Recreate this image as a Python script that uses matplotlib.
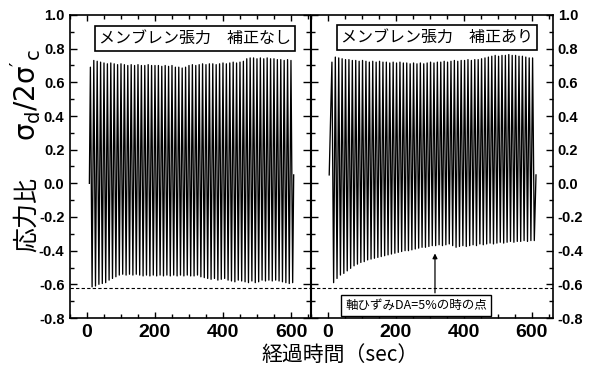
import numpy as np
import matplotlib
matplotlib.use("Agg")
import matplotlib.pyplot as plt
from matplotlib.ticker import MultipleLocator

plt.rcParams['font.family'] = ['Noto Sans CJK JP', 'DejaVu Sans']
plt.rcParams['mathtext.fontset'] = 'dejavusans'
plt.rcParams['mathtext.default'] = 'regular'

# ---------------- data ----------------
cycle_period = 10.0  # s

left_peaks = [0.69, 0.73, 0.725, 0.72, 0.715, 0.71, 0.715, 0.71, 0.705, 0.71,
              0.705, 0.70, 0.705, 0.70, 0.705, 0.70, 0.70, 0.705, 0.70, 0.70,
              0.70, 0.695, 0.70, 0.695, 0.70, 0.69, 0.69, 0.685, 0.69, 0.70,
              0.705, 0.70, 0.705, 0.71, 0.705, 0.71, 0.71, 0.705, 0.71, 0.715,
              0.71, 0.715, 0.72, 0.715, 0.72, 0.725, 0.74, 0.745, 0.745, 0.74,
              0.745, 0.74, 0.745, 0.74, 0.74, 0.735, 0.735, 0.73, 0.735, 0.73]
left_troughs = [-0.615, -0.61, -0.60, -0.595, -0.59, -0.575, -0.565, -0.555, -0.545, -0.54,
                -0.545, -0.54, -0.545, -0.54, -0.545, -0.55, -0.545, -0.55, -0.545, -0.55,
                -0.545, -0.55, -0.545, -0.55, -0.545, -0.55, -0.545, -0.55, -0.545, -0.55,
                -0.55, -0.545, -0.555, -0.56, -0.565, -0.57, -0.565, -0.575, -0.57, -0.565,
                -0.575, -0.58, -0.585, -0.575, -0.58, -0.585, -0.59, -0.58, -0.59, -0.585,
                -0.575, -0.58, -0.575, -0.58, -0.575, -0.58, -0.585, -0.59, -0.595, -0.59]
left_first_peak_t = 10.0
left_start = (7.0, 0.0)
left_end = (608.0, 0.05)

right_peaks = [0.72, 0.75, 0.745, 0.74, 0.735, 0.735, 0.73, 0.73, 0.725, 0.73,
               0.725, 0.72, 0.725, 0.72, 0.725, 0.72, 0.72, 0.715, 0.72, 0.715,
               0.72, 0.715, 0.715, 0.71, 0.715, 0.71, 0.715, 0.71, 0.715, 0.72,
               0.715, 0.72, 0.72, 0.725, 0.72, 0.725, 0.73, 0.725, 0.73, 0.73,
               0.735, 0.73, 0.735, 0.735, 0.74, 0.745, 0.75, 0.755, 0.76, 0.755,
               0.76, 0.76, 0.765, 0.76, 0.76, 0.755, 0.755, 0.75, 0.745, 0.745]
right_troughs = [-0.59, -0.565, -0.545, -0.535, -0.52, -0.505, -0.49, -0.48, -0.47, -0.465,
                 -0.455, -0.45, -0.445, -0.44, -0.435, -0.43, -0.425, -0.42, -0.415, -0.41,
                 -0.405, -0.40, -0.40, -0.395, -0.39, -0.385, -0.38, -0.38, -0.375, -0.37,
                 -0.37, -0.365, -0.37, -0.365, -0.36, -0.37, -0.38, -0.375, -0.37, -0.375,
                 -0.37, -0.365, -0.37, -0.36, -0.365, -0.36, -0.355, -0.36, -0.355, -0.35,
                 -0.355, -0.35, -0.345, -0.35, -0.345, -0.345, -0.34, -0.345, -0.34, -0.34]
right_first_peak_t = 12.0
right_start = (4.0, 0.05)
right_end = (612.0, 0.05)

dashed_level = -0.62
left_title = 'メンブレン張力　補正なし'
right_title = 'メンブレン張力　補正あり'
note_text = '軸ひずみDA=5%の時の点'
note_arrow_t = 315
note_arrow_tip = -0.40

x_major_ticks = [0, 200, 400, 600]
y_ticks = [-0.8, -0.6, -0.4, -0.2, 0.0, 0.2, 0.4, 0.6, 0.8, 1.0]


def build_wave(peaks, troughs, first_t, start, end):
    n = len(peaks)
    pt = first_t + cycle_period * np.arange(n)
    tt = pt + cycle_period / 2
    t = [start[0]]
    v = [start[1]]
    for a, b, c, d in zip(pt, peaks, tt, troughs):
        t += [a, c]
        v += [b, d]
    t.append(end[0])
    v.append(end[1])
    return np.array(t), np.array(v)


# ---------------- figure ----------------
fig = plt.figure(figsize=(5.91, 3.75), dpi=100)
axL = fig.add_axes([70 / 591, 1 - 318 / 375, 240 / 591, 303 / 375])
axR = fig.add_axes([310.5 / 591, 1 - 318 / 375, 242.5 / 591, 303 / 375])

tick_font = dict(family=['Liberation Sans', 'DejaVu Sans'], weight='bold')

for ax, peaks, troughs, ft, st, en, xl in [
        (axL, left_peaks, left_troughs, left_first_peak_t, left_start, left_end, (-50, 656)),
        (axR, right_peaks, right_troughs, right_first_peak_t, right_start, right_end, (-51, 662))]:
    t, v = build_wave(peaks, troughs, ft, st, en)
    ax.plot(t, v, color='black', lw=0.95)
    ax.axhline(dashed_level, color='black', lw=0.8, ls=(0, (3, 2)))
    ax.set_xlim(*xl)
    ax.set_ylim(-0.8, 1.0)
    ax.set_xticks(x_major_ticks)
    ax.xaxis.set_minor_locator(MultipleLocator(50))
    ax.set_yticks(y_ticks)
    ax.yaxis.set_minor_locator(MultipleLocator(0.1))
    ax.tick_params(which='both', direction='in', top=True, right=True, left=True, bottom=True,
                   width=1.0, color='black')
    ax.tick_params(which='major', length=5)
    ax.tick_params(which='minor', length=3)
    ax.tick_params(axis='x', which='major', length=4, pad=4)
    for s in ax.spines.values():
        s.set_linewidth(1.2)
    ax.set_xticklabels([str(x) for x in x_major_ticks], fontsize=14, **tick_font)

axL.spines['right'].set_linewidth(0.8)
axR.spines['left'].set_linewidth(0.8)

axL.set_yticklabels(['%.1f' % y for y in y_ticks], fontsize=10.5, **tick_font)
axL.tick_params(axis='y', pad=4)
axR.yaxis.tick_right()
axR.tick_params(which='both', left=True, right=True, direction='in')
axR.set_yticklabels(['%.1f' % y for y in y_ticks], fontsize=10.5, **tick_font)

box = dict(boxstyle='square,pad=0.25', fc='white', ec='black', lw=1.2)
axL.text(318, 0.863, left_title, ha='center', va='center', fontsize=11.5, bbox=box)
axR.text(322, 0.866, right_title, ha='center', va='center', fontsize=11.5, bbox=box)

axR.annotate('', xy=(note_arrow_t, note_arrow_tip), xytext=(note_arrow_t, -0.667),
             arrowprops=dict(arrowstyle='-|>', color='black', lw=0.9, mutation_scale=7))
axR.text(259, -0.726, note_text, ha='center', va='center', fontsize=9,
         bbox=dict(boxstyle='square,pad=0.3', fc='white', ec='black', lw=1.0))

fig.text(27 / 591, 1 - 215 / 375, '応力比', rotation=90, ha='center', va='center', fontsize=18)
fig.text(26 / 591, 1 - 95 / 375, r"$σ_d/2σ'_c$", rotation=90, ha='center', va='center',
         fontsize=20, family=['DejaVu Sans'])
fig.text(340 / 591, 1 - 355 / 375, '経過時間（sec）', ha='center', va='center', fontsize=15)

fig.savefig('out.png', dpi=100)
